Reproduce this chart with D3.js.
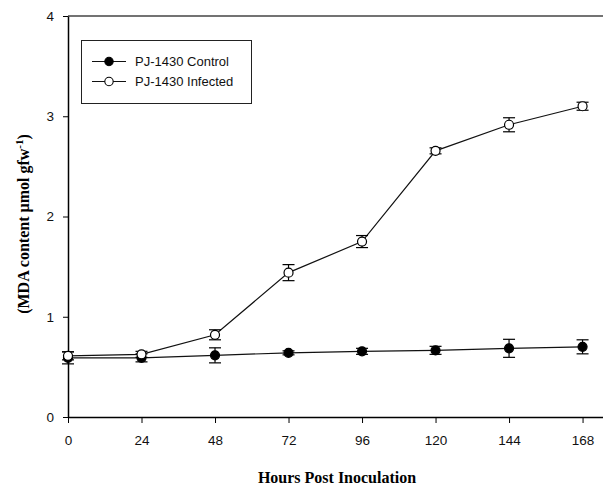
<!DOCTYPE html>
<html>
<head>
<meta charset="utf-8">
<script src="https://cdn.jsdelivr.net/npm/d3@7"></script>
<style>
  body { margin: 0; background: #fff; }
  svg { display: block; }
</style>
</head>
<body>
<svg width="603" height="491"></svg>
<script>
var hours = [0, 24, 48, 72, 96, 120, 144, 168]
var controlMean = [0.59, 0.59, 0.615, 0.64, 0.655, 0.665, 0.685, 0.70]
var controlErr = [0.06, 0.04, 0.075, 0.02, 0.03, 0.04, 0.09, 0.07]
var infectedMean = [0.61, 0.625, 0.82, 1.44, 1.75, 2.655, 2.915, 3.10]
var infectedErr = [0.04, 0.03, 0.05, 0.08, 0.06, 0.03, 0.07, 0.04]
var xTicks = [0, 24, 48, 72, 96, 120, 144, 168]
var yTicks = [0, 1, 2, 3, 4]

var series = [
  { name: 'PJ-1430 Control', mean: controlMean, err: controlErr, fill: '#000' },
  { name: 'PJ-1430 Infected', mean: infectedMean, err: infectedErr, fill: '#fff' }
]

var svg = d3.select('svg')

var x = d3.scaleLinear().domain([0, 175]).range([68, 604])
var y = d3.scaleLinear().domain([0, 4]).range([417, 16])

// top frame line
svg.append('line')
    .attr('x1', x(0)).attr('x2', 603)
    .attr('y1', y(4)).attr('y2', y(4))
    .attr('stroke', '#444').attr('stroke-width', 1.5)

var xAxis = svg.append('g')
    .attr('transform', 'translate(0,' + y(0) + ')')
    .call(d3.axisBottom(x).tickValues(xTicks).tickSize(6).tickPadding(12).tickSizeOuter(0))
xAxis.select('.domain').attr('stroke-width', 1.5)

var yAxis = svg.append('g')
    .attr('transform', 'translate(' + x(0) + ',0)')
    .call(d3.axisLeft(y).tickValues(yTicks).tickFormat(d3.format('d')).tickSize(5).tickPadding(9).tickSizeOuter(0))
yAxis.select('.domain').attr('stroke-width', 1.5)

svg.selectAll('.tick text')
    .attr('font-family', 'Liberation Sans, Arial, sans-serif')
    .attr('font-size', 13.5)
    .attr('fill', '#111')

var line = d3.line()
    .x(function (d) { return x(d.h) })
    .y(function (d) { return y(d.v) })

var groups = svg.selectAll('g.series')
    .data(series)
    .enter()
    .append('g')
    .attr('class', 'series')

groups.each(function (s) {
  var g = d3.select(this)
  var pts = hours.map(function (h, i) {
    return { h: h, v: s.mean[i], e: s.err[i] }
  })

  g.append('path')
      .datum(pts)
      .attr('d', line)
      .attr('fill', 'none')
      .attr('stroke', '#111')
      .attr('stroke-width', 1.2)

  var eb = g.selectAll('g.err').data(pts).enter().append('g')
  eb.append('line')
      .attr('x1', function (d) { return x(d.h) })
      .attr('x2', function (d) { return x(d.h) })
      .attr('y1', function (d) { return y(d.v - d.e) })
      .attr('y2', function (d) { return y(d.v + d.e) })
      .attr('stroke', '#000').attr('stroke-width', 1.2)
  ;['-', '+'].forEach(function (sign) {
    eb.append('line')
        .attr('x1', function (d) { return x(d.h) - 6 })
        .attr('x2', function (d) { return x(d.h) + 6 })
        .attr('y1', function (d) { return y(sign === '+' ? d.v + d.e : d.v - d.e) })
        .attr('y2', function (d) { return y(sign === '+' ? d.v + d.e : d.v - d.e) })
        .attr('stroke', '#000').attr('stroke-width', 1.2)
  })

  g.selectAll('circle')
      .data(pts)
      .enter()
      .append('circle')
      .attr('cx', function (d) { return x(d.h) })
      .attr('cy', function (d) { return y(d.v) })
      .attr('r', 4.5)
      .attr('fill', s.fill)
      .attr('stroke', '#000')
      .attr('stroke-width', 1.2)
})

// legend
var legend = svg.append('g')
legend.append('rect')
    .attr('x', 81.5).attr('y', 40.5)
    .attr('width', 170).attr('height', 63)
    .attr('fill', '#fff').attr('stroke', '#222').attr('stroke-width', 1)

var items = legend.selectAll('g.item')
    .data(series)
    .enter()
    .append('g')
    .attr('transform', function (d, i) { return 'translate(0,' + (61.5 + i * 20) + ')' })

items.append('line')
    .attr('x1', 92).attr('x2', 126)
    .attr('stroke', '#111').attr('stroke-width', 1.2)
items.append('circle')
    .attr('cx', 109).attr('r', 4.2)
    .attr('fill', function (d) { return d.fill })
    .attr('stroke', '#000').attr('stroke-width', 1.1)
items.append('text')
    .attr('x', 135).attr('dy', '0.35em')
    .attr('font-family', 'Liberation Sans, Arial, sans-serif')
    .attr('font-size', 13)
    .attr('fill', '#111')
    .text(function (d) { return d.name })

// axis titles
svg.append('text')
    .attr('x', 337).attr('y', 483)
    .attr('text-anchor', 'middle')
    .attr('font-family', 'Liberation Serif, Times New Roman, serif')
    .attr('font-weight', 'bold')
    .attr('font-size', 16)
    .text('Hours Post Inoculation')

var yt = svg.append('text')
    .attr('transform', 'translate(29,224) rotate(-90)')
    .attr('text-anchor', 'middle')
    .attr('font-family', 'Liberation Serif, Times New Roman, serif')
    .attr('font-weight', 'bold')
    .attr('font-size', 16)
yt.append('tspan').text('(MDA content \u00b5mol gfw')
yt.append('tspan').attr('baseline-shift', 'super').attr('font-size', 11).text('-1')
yt.append('tspan').text(')')
</script>
</body>
</html>
